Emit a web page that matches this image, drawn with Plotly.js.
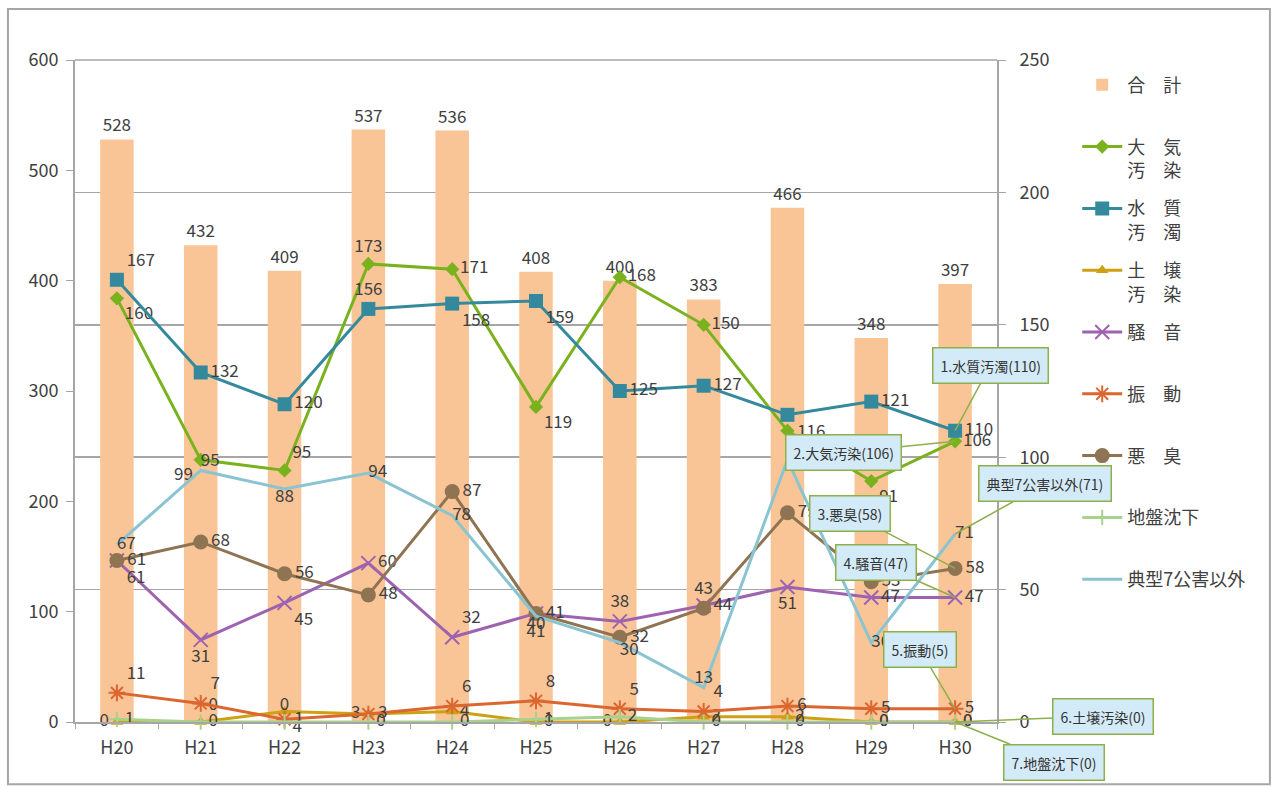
<!DOCTYPE html>
<html>
<head>
<meta charset="utf-8">
<script src="https://cdn.plot.ly/plotly-3.0.1.min.js"></script>
<style>
html,body{margin:0;padding:0;background:#fff;}
#chart{width:1274px;height:787px;}
</style>
</head>
<body>
<div id="chart"></div>
<script>
// ---- data ----
const years = ['H20','H21','H22','H23','H24','H25','H26','H27','H28','H29','H30'];
const total = [528,432,409,537,536,408,400,383,466,348,397];
const taiki = [160,99,95,173,171,119,168,150,110,91,106];
const suishitsu = [167,132,120,156,158,159,125,127,116,121,110];
const dojo = [0,0,4,3,4,0,0,2,2,0,0];
const souon = [61,31,45,60,32,41,38,44,51,47,47];
const shindo = [11,7,1,3,6,8,5,4,6,5,5];
const akushu = [61,68,56,48,87,41,32,43,79,53,58];
const jiban = [1,0,0,0,0,1,2,0,0,0,0];
const tenkei = [67,95,88,94,78,40,30,13,99,30,71];

const seriesNames = {
  total:'合　計<br> ', taiki:'大　気<br>汚　染', suishitsu:'水　質<br>汚　濁', dojo:'土　壌<br>汚　染',
  souon:'騒　音<br> ', shindo:'振　動<br> ', akushu:'悪　臭<br> ', jiban:'地盤沈下<br> ', tenkei:'典型7公害以外<br> '
};

const FONT = '"Noto Sans CJK JP", "Noto Sans", sans-serif';
const TXT = '#404040';
const tf = {family: FONT, size: 17, color: TXT};

function line(name, y, color, marker, pos, group, mode) {
  return {
    type: 'scatter', x: years, y: y, yaxis: 'y2', name: name, legendgroup: group,
    mode: mode || 'lines+markers+text', text: y.map(String), textposition: pos,
    textfont: tf, cliponaxis: false,
    line: {color: color, width: 3}, marker: marker
  };
}

const data = [
  {type:'bar', x: years, y: total, name: seriesNames.total, legendgroup:'g0',
   marker:{color:'#FAC596'}, text: total.map(String), textposition:'outside',
   textfont: tf, cliponaxis:false},
  line(seriesNames.taiki, taiki, '#79B21E', {symbol:'diamond', size:11, color:'#79B21E'},
    ['bottom right','bottom left','top right','top center','middle right','bottom right','middle right','middle right','bottom right','bottom right','middle right'], 'g1'),
  line(seriesNames.suishitsu, suishitsu, '#35899C', {symbol:'square', size:14, color:'#35899C'},
    ['top right','middle right','middle right','top center','bottom right','bottom right','middle right','middle right','bottom right','middle right','middle right'], 'g2'),
  line(seriesNames.dojo, dojo, '#CDA112', {symbol:'triangle-up', size:11, color:'#CDA112'},
    ['middle left','top right','bottom right','middle left','middle right','middle right','middle left','middle right','middle right','middle right','middle right'], 'g3'),
  line(seriesNames.souon, souon, '#9E63B0', {symbol:'x-thin', size:14, line:{color:'#9E63B0', width:2}},
    ['bottom right','bottom center','bottom right','middle right','top right','middle right','top center','middle right','bottom center','middle right','middle right'], 'g4'),
  line(seriesNames.shindo, shindo, '#DB6630', {symbol:'asterisk', size:14, line:{color:'#DB6630', width:2}},
    ['top right','top right','middle right','middle right','top right','top right','top right','top right','middle right','middle right','middle right'], 'g5'),
  line(seriesNames.akushu, akushu, '#8E7452', {symbol:'circle', size:15, color:'#8E7452'},
    ['middle right','middle right','middle right','middle right','middle right','bottom center','middle right','top center','middle right','middle right','middle right'], 'g6'),
  line(seriesNames.jiban, jiban, '#A9D18E', {symbol:'cross-thin', size:11, line:{color:'#A9D18E', width:2}},
    ['middle right','middle right','top center','middle right','middle right','middle right','middle right','middle right','middle right','middle right','middle right'], 'g7'),
  line(seriesNames.tenkei, tenkei, '#8AC4D1', {size:4},
    ['middle right','top right','bottom center','middle right','middle right','bottom center','bottom right','top center','middle right','middle right','middle right'], 'g8', 'lines+text')
];

const last = years.length - 1;
const callBase = {
  xref:'x', yref:'y2', x: years[last], showarrow:true, arrowhead:0, arrowwidth:1.5,
  arrowcolor:'#8DB04A', bgcolor:'#D3EBF8', bordercolor:'#8DB04A', borderwidth:1.5, borderpad:7,
  font:{family: FONT, size:14, color:'#333333'}
};
const callouts = [
  {text:`1.水質汚濁(${suishitsu[last]})`, y: suishitsu[last], ax:35, ay:-65},
  {text:`2.大気汚染(${taiki[last]})`, y: taiki[last], ax:-112, ay:11},
  {text:`3.悪臭(${akushu[last]})`, y: akushu[last], ax:-105, ay:-55},
  {text:`4.騒音(${souon[last]})`, y: souon[last], ax:-79, ay:-35},
  {text:`5.振動(${shindo[last]})`, y: shindo[last], ax:-35, ay:-59},
  {text:`6.土壌汚染(${dojo[last]})`, y: dojo[last], ax:148, ay:-6},
  {text:`7.地盤沈下(${jiban[last]})`, y: jiban[last], ax:99, ay:40},
  {text:`典型7公害以外(${tenkei[last]})`, y: tenkei[last], ax:90, ay:-50}
].map(c => Object.assign({}, callBase, c));

const axFont = {family: FONT, size:18, color: TXT};
const layout = {
  width:1274, height:787,
  margin:{l:75, r:277, t:60, b:65},
  paper_bgcolor:'#ffffff', plot_bgcolor:'#ffffff',
  font:{family: FONT, size:16, color: TXT},
  showlegend:true,
  bargap:0.6,
  xaxis:{type:'category', tickson:'boundaries', ticks:'outside', ticklen:5, tickcolor:'#A6A6A6',
    showline:true, linecolor:'#A6A6A6', linewidth:2, showgrid:false, ticklabelstandoff:8,
    tickfont:axFont, range:[-0.5, 10.5]},
  yaxis:{range:[0,600], dtick:100, showline:true, linecolor:'#A6A6A6', linewidth:2,
    ticks:'outside', ticklen:7, tickcolor:'#A6A6A6', showgrid:false, zeroline:false,
    ticklabelstandoff:4, tickfont:axFont},
  yaxis2:{range:[0,250], dtick:50, overlaying:'y', side:'right', showline:true,
    linecolor:'#A6A6A6', linewidth:2, ticks:'outside', ticklen:7, tickcolor:'#A6A6A6',
    showgrid:true, gridcolor:'#A6A6A6', gridwidth:1.5, zeroline:false,
    ticklabelstandoff:10, tickfont:axFont},
  legend:{x:1.087, y:0.99, xanchor:'left', yanchor:'top', valign:'top', itemwidth:40,
    traceorder:'grouped', tracegroupgap:12, font:{family: FONT, size:18, color: TXT},
    bgcolor:'rgba(0,0,0,0)'},
  annotations: callouts,
  shapes:[
    {type:'rect', xref:'paper', yref:'paper', x0:-0.0727, x1:1.296, y0:-0.094, y1:1.077,
     line:{color:'#A6A6A6', width:2}, fillcolor:'rgba(0,0,0,0)', layer:'below'},
    {type:'line', xref:'paper', yref:'paper', x0:0, x1:1, y0:1, y1:1,
     line:{color:'#A6A6A6', width:1.5}}
  ]
};

Plotly.newPlot('chart', data, layout, {displayModeBar:false, staticPlot:true});
</script>
</body>
</html>
